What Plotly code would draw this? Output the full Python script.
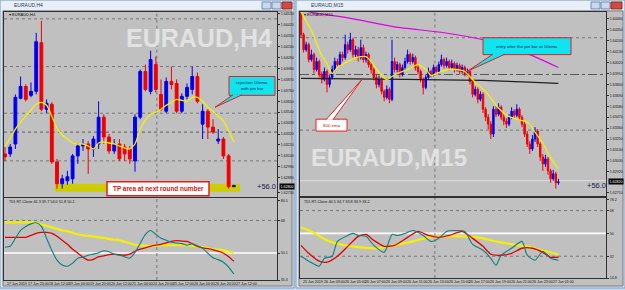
import plotly.graph_objects as go

# ================= DATA =================
# EURAUD H4 candles (bar index, OHLC)
h4_bar = list(range(45))
h4_open = [1.6312,1.6312,1.6322,1.6368,1.6380,1.6371,1.6375,1.6424,1.6357,1.6362,
           1.6304,1.6282,1.6285,1.6287,1.6310,1.6320,1.6322,1.6317,1.6322,1.6349,
           1.6329,1.6315,1.6322,1.6319,1.6317,1.6305,1.6349,1.6395,1.6375,1.6402,
           1.6372,1.6355,1.6385,1.6383,1.6355,1.6370,1.6377,1.6390,1.6342,1.6355,
           1.6339,1.6325,1.6327,1.6310,1.6279]
h4_high = [1.6319,1.6322,1.6372,1.6390,1.6382,1.6384,1.6434,1.6446,1.6367,1.6364,
           1.6307,1.6291,1.6295,1.6312,1.6323,1.6327,1.6325,1.6330,1.6365,1.6352,
           1.6332,1.6327,1.6327,1.6322,1.6320,1.6352,1.6397,1.6402,1.6416,1.6410,
           1.6387,1.6389,1.6400,1.6387,1.6373,1.6383,1.6400,1.6394,1.6362,1.6357,
           1.6347,1.6337,1.6329,1.6312,1.6281]
h4_low = [1.6305,1.6309,1.6317,1.6367,1.6365,1.6369,1.6372,1.6355,1.6353,1.6302,
          1.6277,1.6277,1.6281,1.6282,1.6302,1.6315,1.6292,1.6309,1.6317,1.6322,
          1.6312,1.6312,1.6305,1.6305,1.6302,1.6294,1.6347,1.6375,1.6372,1.6374,
          1.6355,1.6353,1.6377,1.6353,1.6353,1.6367,1.6372,1.6363,1.6327,1.6327,
          1.6332,1.6322,1.6307,1.6277,1.6279]
h4_close = [1.6309,1.6319,1.6369,1.6380,1.6367,1.6375,1.6425,1.6357,1.6363,1.6304,
            1.6282,1.6287,1.6289,1.6310,1.6320,1.6322,1.6317,1.6327,1.6349,1.6329,
            1.6315,1.6322,1.6307,1.6312,1.6307,1.6349,1.6395,1.6377,1.6407,1.6377,
            1.6357,1.6385,1.6382,1.6355,1.6370,1.6379,1.6390,1.6365,1.6355,1.6339,
            1.6334,1.6327,1.6310,1.6279,1.6280]
h4_ema10 = [1.6320,1.6328,1.6337,1.6344,1.6350,1.6356,1.6362,1.6364,1.6361,1.6350,
            1.6338,1.6331,1.6327,1.6323,1.6322,1.6322,1.6320,1.6317,1.6323,1.6324,
            1.6323,1.6322,1.6320,1.6318,1.6317,1.6322,1.6337,1.6346,1.6352,1.6354,
            1.6357,1.6361,1.6364,1.6367,1.6366,1.6365,1.6369,1.6369,1.6365,1.6359,
            1.6355,1.6350,1.6345,1.6335,1.6324]
# TDI on H4
h4_tdi_base = [66.9,66.9,66.9,66.9,66.9,66.9,66.6,65.8,65.0,64.2,63.4,62.5,62.0,61.2,60.4,
               59.8,59.5,59.3,58.7,58.4,57.9,57.4,57.1,56.3,55.5,54.6,54.4,54.1,53.8,54.1,
               54.4,54.4,54.4,54.4,54.4,54.4,54.1,53.6,53.3,52.7,52.2,51.9,51.6,50.8,50.3]
h4_tdi_signal = [58.7,58.7,58.7,58.7,58.7,59.8,60.9,61.4,61.4,60.9,59.3,57.1,54.9,52.2,50.0,
                 47.8,46.2,46.7,48.1,48.6,49.2,49.5,49.2,48.9,49.5,51.1,52.2,53.0,53.8,54.4,
                 54.9,55.7,56.5,56.9,56.7,56.5,55.2,53.8,53.0,52.5,51.9,51.1,50.0,48.1,45.6]
h4_tdi_rsi = [53.3,53.8,58.2,62.5,64.7,66.1,66.7,64.7,58.2,51.6,46.2,43.5,42.9,44.6,47.3,
              47.8,48.9,49.5,50.3,51.4,50.8,49.5,48.9,48.1,47.3,50.5,55.5,60.4,62.5,60.4,
              58.2,57.1,56.0,55.6,55.3,54.4,55.2,54.1,52.7,50.0,47.5,46.5,45.1,42.4,38.6]
h4_time_bars = [0,4,8,12,16,20,24,28,32,36,40,44]
h4_time_labels = ["17 Jun 2019","17 Jun 20:00","18 Jun 12:00","19 Jun 04:00","19 Jun 20:00",
                  "20 Jun 12:00","21 Jun 04:00","24 Jun 20:00","25 Jun 12:00","26 Jun 04:00",
                  "26 Jun 20:00","27 Jun 12:00"]
h4_price_ticks = [1.6453,1.6442,1.6431,1.6420,1.6409,1.6398,1.6387,1.6376,1.6365,1.6354,
                  1.6343,1.6332,1.6321,1.6310,1.6299,1.6288,1.6273]
h4_tdi_ticks = [79.0,68,50.1,35.3]
h4_tdi_ticktext = ["80.5","68","50.1","35.3"]

# EURAUD M15 candles
m15_bar = list(range(100))
m15_open = [1.6452,1.6430,1.6415,1.6420,1.6405,1.6410,1.6395,1.6403,1.6390,1.6385,
            1.6393,1.6380,1.6387,1.6395,1.6403,1.6400,1.6410,1.6407,1.6420,1.6415,
            1.6425,1.6410,1.6415,1.6407,1.6417,1.6405,1.6410,1.6400,1.6395,1.6387,
            1.6380,1.6385,1.6373,1.6367,1.6375,1.6365,1.6403,1.6395,1.6400,1.6390,
            1.6397,1.6403,1.6410,1.6403,1.6407,1.6397,1.6393,1.6385,1.6377,1.6387,
            1.6393,1.6390,1.6397,1.6393,1.6400,1.6405,1.6399,1.6403,1.6397,1.6401,
            1.6395,1.6399,1.6393,1.6397,1.6391,1.6393,1.6383,1.6370,1.6375,1.6365,
            1.6370,1.6355,1.6347,1.6340,1.6330,1.6355,1.6350,1.6357,1.6347,1.6343,
            1.6340,1.6347,1.6353,1.6349,1.6355,1.6347,1.6340,1.6330,1.6320,1.6315,
            1.6325,1.6333,1.6320,1.6307,1.6300,1.6305,1.6293,1.6285,1.6290,1.6281]
m15_high = [1.6453,1.6432,1.6423,1.6422,1.6415,1.6412,1.6407,1.6405,1.6393,1.6397,
            1.6395,1.6390,1.6399,1.6407,1.6406,1.6413,1.6413,1.6430,1.6423,1.6432,
            1.6427,1.6419,1.6418,1.6425,1.6420,1.6413,1.6412,1.6403,1.6397,1.6390,
            1.6389,1.6387,1.6375,1.6379,1.6377,1.6425,1.6407,1.6403,1.6402,1.6400,
            1.6407,1.6415,1.6412,1.6411,1.6409,1.6400,1.6395,1.6387,1.6390,1.6397,
            1.6395,1.6400,1.6399,1.6403,1.6410,1.6407,1.6407,1.6405,1.6405,1.6403,
            1.6402,1.6401,1.6400,1.6399,1.6396,1.6395,1.6385,1.6378,1.6377,1.6373,
            1.6372,1.6357,1.6350,1.6343,1.6358,1.6358,1.6361,1.6359,1.6350,1.6346,
            1.6350,1.6357,1.6355,1.6360,1.6357,1.6349,1.6343,1.6333,1.6323,1.6329,
            1.6337,1.6335,1.6322,1.6310,1.6309,1.6307,1.6295,1.6294,1.6292,1.6285]
m15_low = [1.6427,1.6412,1.6413,1.6402,1.6403,1.6391,1.6393,1.6387,1.6381,1.6383,
           1.6372,1.6377,1.6385,1.6393,1.6397,1.6398,1.6403,1.6405,1.6411,1.6413,
           1.6407,1.6407,1.6403,1.6405,1.6402,1.6402,1.6397,1.6391,1.6384,1.6376,
           1.6377,1.6370,1.6363,1.6365,1.6361,1.6363,1.6392,1.6392,1.6387,1.6388,
           1.6395,1.6401,1.6400,1.6401,1.6394,1.6390,1.6382,1.6370,1.6375,1.6385,
           1.6387,1.6388,1.6390,1.6391,1.6398,1.6396,1.6397,1.6394,1.6395,1.6392,
           1.6393,1.6390,1.6391,1.6388,1.6389,1.6380,1.6367,1.6368,1.6361,1.6363,
           1.6351,1.6343,1.6335,1.6325,1.6327,1.6347,1.6348,1.6344,1.6339,1.6336,
           1.6338,1.6345,1.6346,1.6347,1.6344,1.6337,1.6327,1.6317,1.6310,1.6313,
           1.6322,1.6317,1.6303,1.6293,1.6297,1.6289,1.6281,1.6283,1.6275,1.6279]
m15_close = [1.6430,1.6415,1.6420,1.6405,1.6410,1.6395,1.6403,1.6390,1.6385,1.6393,
             1.6380,1.6387,1.6395,1.6403,1.6400,1.6410,1.6407,1.6420,1.6415,1.6425,
             1.6410,1.6415,1.6407,1.6417,1.6405,1.6410,1.6400,1.6395,1.6387,1.6380,
             1.6385,1.6373,1.6367,1.6375,1.6365,1.6403,1.6395,1.6400,1.6390,1.6397,
             1.6403,1.6410,1.6403,1.6407,1.6397,1.6393,1.6385,1.6377,1.6387,1.6393,
             1.6390,1.6397,1.6393,1.6400,1.6405,1.6399,1.6403,1.6397,1.6401,1.6395,
             1.6399,1.6393,1.6397,1.6391,1.6393,1.6383,1.6370,1.6375,1.6365,1.6370,
             1.6355,1.6347,1.6340,1.6330,1.6355,1.6350,1.6357,1.6347,1.6343,1.6340,
             1.6347,1.6353,1.6349,1.6355,1.6347,1.6340,1.6330,1.6320,1.6315,1.6325,
             1.6333,1.6320,1.6307,1.6300,1.6305,1.6293,1.6285,1.6290,1.6281,1.6282]
m15_ema10_bars = [0,4,8,10,12,14,18,21,25,27,30,33,35,37,41,45,48,50,53,57,60,63,67,71,75,79,83,86,88,90,93,96,99]
m15_ema10 = [1.6453,1.6434,1.6409,1.6401,1.6391,1.6397,1.6403,1.6407,1.6408,1.6403,
             1.6392,1.6385,1.6388,1.6391,1.6395,1.6400,1.6395,1.6389,1.6392,1.6395,
             1.6395,1.6393,1.6382,1.6373,1.6359,1.6349,1.6345,1.6343,1.6340,1.6332,
             1.6321,1.6306,1.6295]
m15_ema200_bars = [0,5,18,36,55,70,88,99]
m15_ema200 = [1.6455,1.6452,1.6447,1.6438,1.6432,1.6425,1.6410,1.6397]
m15_ema800_bars = [0,40,70,85,99]
m15_ema800 = [1.6386,1.6385,1.6384,1.63825,1.6381]
# TDI on M15
m15_base_bars = [0,4,10,17,23,30,36,43,49,55,62,68,75,81,87,94,99]
m15_tdi_base = [54.7,51.6,44.5,40.6,39.0,38.3,40.6,43.7,46.9,47.7,47.7,46.9,43.7,41.4,39.8,35.9,33.6]
m15_signal_bars = [0,3,7,10,14,18,22,25,28,32,36,41,45,49,53,57,62,66,70,73,77,81,85,89,93,96,99]
m15_tdi_signal = [40.6,34.3,28.1,27.3,32.0,39.8,47.7,49.2,44.5,39.8,40.6,46.9,51.6,48.4,46.9,48.4,
                  51.6,46.1,39.8,33.6,32.8,34.3,38.3,38.3,35.1,31.2,31.2]
m15_rsi_bars = [0,3,7,9,12,14,18,20,22,25,28,32,35,37,40,43,47,50,53,56,59,63,66,70,73,75,77,81,85,87,90,93,96,99]
m15_tdi_rsi = [32.0,28.1,24.2,30.4,32.0,43.7,48.4,50.0,48.4,47.7,40.6,35.1,49.2,48.4,50.0,52.3,48.4,
               43.7,46.1,51.6,52.3,51.6,41.4,36.7,30.4,24.9,32.8,38.3,43.7,32.8,28.9,35.9,30.4,28.9]
m15_time_bars = [0,8,16,24,32,40,48,56,64,72,80,88,96]
m15_time_labels = ["25 Jun 2019","26 Jun 03:00","26 Jun 05:00","26 Jun 07:00","26 Jun 09:00",
                   "26 Jun 11:00","26 Jun 13:00","26 Jun 15:00","26 Jun 17:00","26 Jun 19:00",
                   "26 Jun 21:00","26 Jun 23:00","27 Jun 01:00"]
m15_price_ticks = [1.6446,1.6435,1.6424,1.6413,1.6402,1.6391,1.6380,1.6369,1.6358,1.6347,
                   1.6336,1.6325,1.6314,1.6303,1.6292,1.6271]
m15_tdi_ticks = [76.5,68,50,32,14.8]
m15_tdi_ticktext = ["78.2","68","50","32","14.8"]

# ================= FIGURE =================
W, H = 625, 290
def PX(x): return x / W
def PY(y): return 1 - y / H

BLUE, RED = "#0000f0", "#f00000"
GREY = "#c0c0c0"
TXT = "#101010"
FONT = "Liberation Sans, Arial, DejaVu Sans"

fig = go.Figure()

def candles(x, o, h, l, c, xa, ya):
    return go.Candlestick(x=x, open=o, high=h, low=l, close=c, xaxis=xa, yaxis=ya,
                          increasing=dict(line=dict(color=BLUE, width=1), fillcolor=BLUE),
                          decreasing=dict(line=dict(color=RED, width=1), fillcolor=RED),
                          whiskerwidth=0, showlegend=False, hoverinfo="skip")

def line(x, y, xa, ya, color, width):
    return go.Scatter(x=x, y=y, xaxis=xa, yaxis=ya, mode="lines",
                      line=dict(color=color, width=width, shape="spline", smoothing=0.6),
                      showlegend=False, hoverinfo="skip")

# left H4
fig.add_trace(candles(h4_bar, h4_open, h4_high, h4_low, h4_close, "x", "y"))
fig.add_trace(line(h4_bar, h4_ema10, "x", "y", "#f4f000", 1.3))
fig.add_trace(line(h4_bar, h4_tdi_base, "x2", "y2", "#f4f000", 2.2))
fig.add_trace(line(h4_bar, h4_tdi_signal, "x2", "y2", "#e00000", 1.3))
fig.add_trace(line(h4_bar, h4_tdi_rsi, "x2", "y2", "#0f7f7f", 1.1))
# right M15
fig.add_trace(candles(m15_bar, m15_open, m15_high, m15_low, m15_close, "x3", "y3"))
fig.add_trace(line(m15_ema200_bars, m15_ema200, "x3", "y3", "#e000e0", 1.2))
fig.add_trace(line(m15_ema800_bars, m15_ema800, "x3", "y3", "#202020", 1.3))
fig.add_trace(line(m15_ema10_bars, m15_ema10, "x3", "y3", "#f4f000", 1.3))
fig.add_trace(line(m15_base_bars, m15_tdi_base, "x4", "y4", "#f4f000", 2.2))
fig.add_trace(line(m15_signal_bars, m15_tdi_signal, "x4", "y4", "#e00000", 1.3))
fig.add_trace(line(m15_rsi_bars, m15_tdi_rsi, "x4", "y4", "#0f7f7f", 1.1))

ax_common = dict(showgrid=False, zeroline=False, showline=True, mirror=True,
                 linecolor="#303030", linewidth=1)
xa_common = dict(ax_common, showticklabels=False, ticks="", fixedrange=True)
ya_common = dict(ax_common, side="right", ticks="outside", ticklen=2, tickcolor="#303030",
                 tickfont=dict(size=3.6, color=TXT, family=FONT), fixedrange=True)

fig.update_layout(
    width=W, height=H, margin=dict(l=0, r=0, t=0, b=0),
    paper_bgcolor="#c8d9ee", plot_bgcolor=GREY, showlegend=False, boxgap=0.22,
    xaxis=dict(xa_common, domain=[PX(4), PX(277)], range=[-0.19, 52.3], anchor="y",
               rangeslider=dict(visible=False)),
    yaxis=dict(ya_common, domain=[PY(198), PY(12)], range=[1.6269, 1.6455], anchor="x",
               tickvals=h4_price_ticks, ticktext=[f"{v:.5f}" for v in h4_price_ticks]),
    xaxis2=dict(xa_common, domain=[PX(4), PX(277)], range=[-0.19, 52.3], anchor="y2"),
    yaxis2=dict(ya_common, domain=[PY(282), PY(199)], range=[35.3, 80.5], anchor="x2",
                tickvals=h4_tdi_ticks, ticktext=h4_tdi_ticktext),
    xaxis3=dict(xa_common, domain=[PX(300), PX(606)], range=[-0.38, 117.3], anchor="y3",
                rangeslider=dict(visible=False)),
    yaxis3=dict(ya_common, domain=[PY(197), PY(12)], range=[1.6268, 1.6453], anchor="x3",
                tickvals=m15_price_ticks, ticktext=[f"{v:.5f}" for v in m15_price_ticks]),
    xaxis4=dict(xa_common, domain=[PX(300), PX(606)], range=[-0.38, 117.3], anchor="y4"),
    yaxis4=dict(ya_common, domain=[PY(280), PY(199)], range=[14.8, 78.2], anchor="x4",
                tickvals=m15_tdi_ticks, ticktext=m15_tdi_ticktext),
)

shapes = []
def rect(x0, y0, x1, y1, fill, line_c=None, lw=1, layer="below"):
    shapes.append(dict(type="rect", xref="paper", yref="paper", x0=PX(x0), x1=PX(x1),
                       y0=PY(y1), y1=PY(y0), fillcolor=fill, layer=layer,
                       line=dict(color=line_c or fill, width=lw if line_c else 0)))

def path(points, fill, line_c, lw=1, closed=True, layer="above"):
    d = "M " + " L ".join(f"{PX(x):.5f},{PY(y):.5f}" for x, y in points)
    if closed:
        d += " Z"
    shapes.append(dict(type="path", xref="paper", yref="paper", path=d, fillcolor=fill,
                       layer=layer, line=dict(color=line_c, width=lw)))

# windows
for (wx0, wx1) in [(0, 294), (296, 625)]:
    rect(wx0, 0, wx1, 290, "#dbe6f4", "#7f9dbf")
    rect(wx0 + 1, 1, wx1 - 1, 10, "#e9eff8")
    rect(wx0 + 3, 11, wx1 - 2, 288, GREY, "#7a7a7a")
# title bar buttons
for bx in [(262, 271), (272, 281), (591, 600), (601, 610)]:
    rect(bx[0], 2, bx[1], 9, "#c9d8ec", "#6f8db3")
rect(282, 2, 292, 9, "#d24a43", "#8a2a25")
rect(611, 2, 622, 9, "#d24a43", "#8a2a25")

# grid / level lines
def hline(xref, yref, yv, color, dash, width=1):
    shapes.append(dict(type="line", xref=xref + " domain", yref=yref, x0=0, x1=1, y0=yv, y1=yv,
                       layer="below", line=dict(color=color, width=width, dash=dash)))
def vline(xref, yref, xv, color):
    shapes.append(dict(type="line", xref=xref, yref=yref + " domain", x0=xv, x1=xv, y0=0, y1=1,
                       layer="below", line=dict(color=color, width=1, dash="dot")))

for yv in [1.6448, 1.6400, 1.6353, 1.6305]:
    hline("x", "y", yv, "#767676", "dot")
hline("x", "y", 1.6334, "#5a5a5a", "dot")
hline("x2", "y2", 68, "#767676", "dot")
hline("x2", "y2", 50.1, "#ffffff", "solid", 1.6)
vline("x", "y", 29.2, "#767676")
vline("x2", "y2", 29.2, "#767676")

for yv in [1.6427, 1.6334]:
    hline("x3", "y3", yv, "#767676", "dot")
hline("x3", "y3", 1.6390, "#5a5a5a", "dashdot")
hline("x3", "y3", 1.6283, "#dedede", "solid")
hline("x4", "y4", 68, "#767676", "dot")
hline("x4", "y4", 32, "#767676", "dot")
hline("x4", "y4", 50, "#ffffff", "solid", 1.6)
vline("x3", "y3", 51.5, "#767676")
vline("x4", "y4", 51.5, "#767676")

# TP band (H4)
shapes.append(dict(type="rect", xref="x", yref="y", x0=9.6, x1=45.2, y0=1.6274, y1=1.6282,
                   fillcolor="#cccc00", layer="below", line=dict(width=0)))

# callouts
CYAN = "#10e4ee"
rect(229, 77, 275, 96, CYAN, "#e02020", 1, layer="above")
path([(233, 95.5), (215, 108), (242, 95.5)], CYAN, "#e02020", 1, closed=False)
rect(483, 38, 571, 55, CYAN, "#e02020", 1, layer="above")
path([(493, 54.5), (467, 72), (505, 54.5)], CYAN, "#e02020", 1, closed=False)
rect(316, 120, 347, 132, "#ffffff", "#e02020", 1, layer="above")
path([(326, 120.5), (362, 80), (333, 120.5)], "#ffffff", "#e02020", 1, closed=False)
rect(107, 183, 209, 197, "#ffffff", "#e02020", 1.5, layer="above")

fig.update_layout(shapes=shapes)

ann = []
def text(x, y, s, size, color=TXT, xanchor="left", bold=False, family=FONT, **kw):
    ann.append(dict(xref="paper", yref="paper", x=PX(x), y=PY(y), text=(f"<b>{s}</b>" if bold else s),
                    showarrow=False, xanchor=xanchor, yanchor="middle",
                    font=dict(size=size, color=color, family=family), **kw))

# watermarks
WM = "Liberation Sans, Arial"
text(199, 38, "EURAUD,H4", 25, "#e2e2e2", "center", True, WM)
text(389, 159, "EURAUD,M15", 24, "#e2e2e2", "center", True, WM)
# window titles
text(12, 5.5, "EURAUD,H4", 5, "#2a3b55")
text(309, 5.5, "EURAUD,M15", 5, "#2a3b55")
# chart corner labels
text(7, 15, "▾ EURAUD,H4", 4)
text(302, 15, "▾ EURAUD,M15", 4)
text(7, 203, "TDI-RT-Clone 41.3 39.7 54.0 51.8 50.1", 3.8)
text(302, 203, "TDI-RT-Clone 40.5 34.7 33.8 33.9 33.2", 3.8)
# profit labels
text(255, 188, "+56.0", 7.5, "#1a1a50")
text(585, 187, "+56.0", 7.5, "#1a1a50")
# current price tags
text(278.5, 187.5, f"{h4_close[-1]:.5f}", 3.6, "#ffffff", bgcolor="#000000", borderpad=0.5)
text(607.5, 182.5, f"{m15_close[-1]:.5f}", 3.6, "#ffffff", bgcolor="#000000", borderpad=0.5)
# callout texts
text(252, 83, "rejection 10ema", 4.4, "#102060", "center")
text(252, 89, "with pin bar", 4.4, "#102060", "center")
text(527, 46.5, "entry after the pin bar at 10ema", 4.4, "#102060", "center")
text(331.5, 126, "800 ema", 4.4, "#d01010", "center")
text(158, 190, "TP area at next round number", 6.4, "#e01010", "center", True)

# time labels
for b, s in zip(h4_time_bars, h4_time_labels):
    ann.append(dict(xref="x2", yref="paper", x=b, y=PY(285.5), text=s, showarrow=False,
                    xanchor="left", yanchor="middle", font=dict(size=3.6, color=TXT, family=FONT)))
for b, s in zip(m15_time_bars, m15_time_labels):
    ann.append(dict(xref="x4", yref="paper", x=b, y=PY(284), text=s, showarrow=False,
                    xanchor="left", yanchor="middle", font=dict(size=3.6, color=TXT, family=FONT)))

fig.update_layout(annotations=ann)
fig.write_html("out.html")
